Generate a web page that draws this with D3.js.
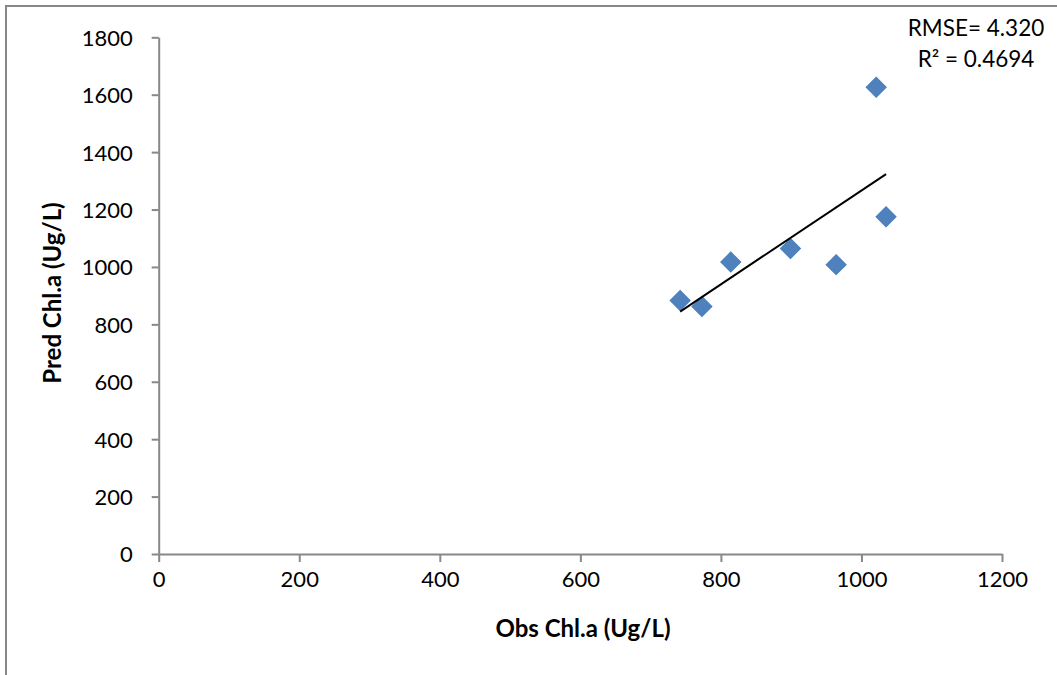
<!DOCTYPE html>
<html>
<head>
<meta charset="utf-8">
<script src="https://cdn.jsdelivr.net/npm/d3@7"></script>
<style>
  body { margin: 0; background: #fff; }
  text { font-family: Lato, "Open Sans", sans-serif; fill: #000; }
</style>
</head>
<body>
<div id="chart"></div>
<script>
// Data
const obsValues = [742, 773, 814, 899, 964, 1021, 1035]
const predValues = [883, 862, 1017, 1064, 1008, 1626, 1175]
const xTicks = [0, 200, 400, 600, 800, 1000, 1200]
const yTicks = [0, 200, 400, 600, 800, 1000, 1200, 1400, 1600, 1800]
const statLabels = ["RMSE= 4.320", "R\u00b2 = 0.4694"]

const dataset = obsValues.map((x, i) => ({ x, y: predValues[i] }))

// Dimensions
let dimensions = {
  width: 1057,
  height: 675,
  left: 158.7,
  top: 37.3,
  right: 1002,
  bottom: 554,
}

const svg = d3.select('#chart')
  .append("svg")
  .attr("width", dimensions.width)
  .attr("height", dimensions.height)

// outer chart border (right and bottom edges fall outside the picture)
svg.append("rect")
  .attr("x", 6)
  .attr("y", 6)
  .attr("width", 1100)
  .attr("height", 700)
  .attr("fill", "none")
  .attr("stroke", "#888")
  .attr("stroke-width", 2)

// Scales
const xScale = d3.scaleLinear()
  .domain([0, 1200])
  .range([dimensions.left, dimensions.right])

const yScale = d3.scaleLinear()
  .domain([0, 1800])
  .range([dimensions.bottom, dimensions.top])

// Axes
const xAxis = d3.axisBottom(xScale)
  .tickValues(xTicks)
  .tickFormat(d3.format("d"))
  .tickSize(8)
  .tickPadding(8)
  .tickSizeOuter(0)

const yAxis = d3.axisLeft(yScale)
  .tickValues(yTicks)
  .tickFormat(d3.format("d"))
  .tickSize(7)
  .tickPadding(19)
  .tickSizeOuter(0)

const xAxisGroup = svg.append("g")
  .attr("transform", `translate(0, ${dimensions.bottom})`)
  .call(xAxis)

const yAxisGroup = svg.append("g")
  .attr("transform", `translate(${dimensions.left}, 0)`)
  .call(yAxis)

;[xAxisGroup, yAxisGroup].forEach(g => {
  g.select(".domain").attr("stroke", "#888").attr("stroke-width", 2)
  g.selectAll(".tick line").attr("stroke", "#888").attr("stroke-width", 2)
  g.selectAll(".tick text")
    .attr("fill", "#000")
    .style("font-size", "22px")
    .style("font-family", "Lato, 'Open Sans', sans-serif")
})
yAxisGroup.selectAll(".tick text").attr("dy", "0.36em")
xAxisGroup.selectAll(".tick text").attr("dy", "0.76em")

// Axis titles
svg.append("text")
  .attr("x", 583)
  .attr("y", 637)
  .attr("text-anchor", "middle")
  .style("font-size", "24px")
  .style("font-weight", "bold")
  .text("Obs Chl.a (Ug/L)")

svg.append("text")
  .attr("transform", "translate(61, 293) rotate(-90)")
  .attr("text-anchor", "middle")
  .style("font-size", "24px")
  .style("font-weight", "bold")
  .text("Pred Chl.a (Ug/L)")

// Trend line (least squares)
const xMean = d3.mean(obsValues)
const yMean = d3.mean(predValues)
const slope = d3.sum(dataset, d => (d.x - xMean) * (d.y - yMean)) /
  d3.sum(dataset, d => (d.x - xMean) ** 2)
const intercept = yMean - slope * xMean
const trend = d3.extent(obsValues).map(x => ({ x, y: intercept + slope * x }))

const lineGenerator = d3.line()
  .x(d => xScale(d.x))
  .y(d => yScale(d.y))

// Points
svg.append("g")
  .selectAll("path")
  .data(dataset)
  .join("path")
  .attr("d", d3.symbol(d3.symbolSquare, 200))
  .attr("transform", d => `translate(${xScale(d.x)}, ${yScale(d.y)}) rotate(45)`)
  .attr("fill", "#4f81bd")
  .attr("stroke", "#4a7ebb")
  .attr("stroke-width", 1)

svg.append("path")
  .datum(trend)
  .attr("d", lineGenerator)
  .attr("fill", "none")
  .attr("stroke", "#000")
  .attr("stroke-width", 2)

// Stats label
svg.append("g")
  .selectAll("text")
  .data(statLabels)
  .join("text")
  .attr("x", 976)
  .attr("y", (d, i) => 36 + i * 31)
  .attr("text-anchor", "middle")
  .style("font-size", "22.5px")
  .text(d => d)
</script>
</body>
</html>
